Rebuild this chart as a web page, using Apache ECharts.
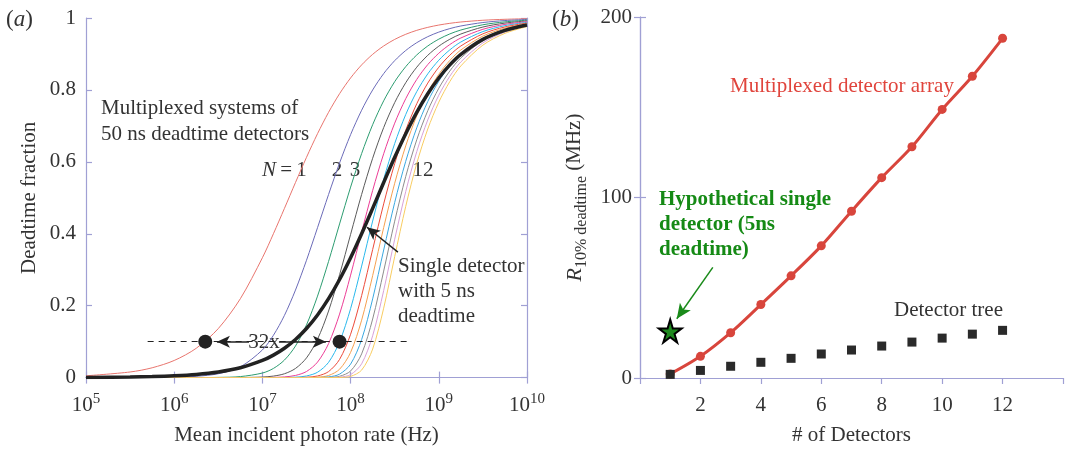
<!DOCTYPE html>
<html><head><meta charset="utf-8">
<script src="https://cdn.jsdelivr.net/npm/echarts@6/dist/echarts.min.js"></script>
<style>html,body{margin:0;padding:0;background:#fff}#c{width:1066px;height:451px}</style>
</head><body><div id="c"></div>
<script>
// ---------- Panel (a): deadtime fraction vs mean incident photon rate ----------
// log10 of photon rate (Hz) at which the curves were read
const rateExp = [5,5.5,5.75,6,6.25,6.5,6.75,7,7.125,7.25,7.375,7.5,7.625,7.75,7.875,8,8.125,8.25,8.375,8.5,8.625,8.75,8.875,9,9.125,9.25,9.5,9.75,10];
const fracN1  = [0.005,0.0156,0.0273,0.0476,0.0816,0.1364,0.2194,0.3333,0.4001,0.4706,0.5425,0.6126,0.6783,0.7377,0.7895,0.8333,0.8696,0.8989,0.9222,0.9405,0.9547,0.9657,0.974,0.9804,0.9852,0.9889,0.9937,0.9964,0.998];
const fracN2  = [0,0.0001,0.0004,0.0012,0.0036,0.0107,0.0299,0.0769,0.1177,0.173,0.2434,0.3263,0.4169,0.5091,0.5968,0.6757,0.7435,0.7998,0.8454,0.8814,0.9096,0.9314,0.9481,0.9608,0.9705,0.9778,0.9874,0.9929,0.996];
const fracN3  = [0,0,0,0,0.0001,0.0006,0.0028,0.0127,0.0255,0.0488,0.0878,0.1467,0.2266,0.323,0.4273,0.5297,0.623,0.7033,0.7697,0.8229,0.8647,0.8972,0.9222,0.9412,0.9557,0.9666,0.9812,0.9893,0.994];
const fracN4  = [0,0,0,0,0,0,0.0002,0.0016,0.0042,0.0107,0.0254,0.0548,0.1067,0.1851,0.286,0.3983,0.5094,0.6099,0.6953,0.7648,0.82,0.8632,0.8963,0.9217,0.9409,0.9555,0.9749,0.9858,0.992];
const fracN5  = [0,0,0,0,0,0,0,0.0002,0.0006,0.0019,0.006,0.017,0.0431,0.0943,0.1766,0.2849,0.4045,0.5203,0.6225,0.7075,0.7756,0.8292,0.8705,0.9021,0.9262,0.9444,0.9686,0.9822,0.99];
const fracN6  = [0,0,0,0,0,0,0,0,0.0001,0.0003,0.0012,0.0045,0.0149,0.0423,0.0994,0.1918,0.3101,0.4353,0.5517,0.6509,0.7315,0.7953,0.8447,0.8826,0.9114,0.9333,0.9623,0.9787,0.988];
const fracN7  = [0,0,0,0,0,0,0,0,0,0,0.0002,0.001,0.0045,0.0167,0.0506,0.1205,0.228,0.356,0.4831,0.5952,0.6878,0.7616,0.819,0.8631,0.8967,0.9222,0.956,0.9751,0.986];
const fracN8  = [0,0,0,0,0,0,0,0,0,0,0,0.0002,0.0012,0.0058,0.0232,0.0701,0.1597,0.2835,0.4173,0.5405,0.6444,0.728,0.7934,0.8436,0.882,0.9111,0.9497,0.9716,0.984];
const fracN9  = [0,0,0,0,0,0,0,0,0,0,0,0,0.0003,0.0018,0.0096,0.0375,0.1058,0.2188,0.3548,0.487,0.6015,0.6946,0.7677,0.8242,0.8673,0.9,0.9434,0.968,0.982];
const fracN10 = [0,0,0,0,0,0,0,0,0,0,0,0,0,0.0005,0.0036,0.0184,0.0659,0.1629,0.2962,0.435,0.5591,0.6614,0.7422,0.8047,0.8526,0.8889,0.9372,0.9645,0.98];
const fracN11 = [0,0,0,0,0,0,0,0,0,0,0,0,0,0.0001,0.0012,0.0083,0.0384,0.1163,0.2421,0.3847,0.5173,0.6284,0.7167,0.7853,0.8379,0.8778,0.9309,0.9609,0.978];
const fracN12 = [0,0,0,0,0,0,0,0,0,0,0,0,0,0,0.0004,0.0034,0.0209,0.0793,0.1931,0.3364,0.4761,0.5956,0.6913,0.7659,0.8232,0.8667,0.9246,0.9574,0.976];
const fracSingle5ns = [0.0005,0.0016,0.0028,0.005,0.0088,0.0156,0.0273,0.0476,0.0625,0.0816,0.106,0.1365,0.1741,0.2195,0.2727,0.3333,0.4,0.4706,0.5425,0.6126,0.6783,0.7377,0.7895,0.8333,0.8696,0.8989,0.9405,0.9657,0.9804];
const curveColors = ['#e8756e','#6b6bb8','#2c9c70','#5a5a5a','#ec3d96','#2ab8ec','#ec4a3a','#f5a050','#3aa8e0','#8c8c8c','#d8a0d8','#f8cc60'];
const tenPctRates = [2.25e6, 7.5e7];   // the two 10% points (Hz)
const tenPctFrac  = [0.1, 0.1];

// ---------- Panel (b): R at 10% deadtime vs number of detectors ----------
const detN      = [1,2,3,4,5,6,7,8,9,10,11,12];
const muxRate   = [2.2,12.0,25.1,40.7,56.6,73.2,92.4,111.0,128.1,148.8,167.2,188.2];
const treeRate  = [2.0,4.2,6.5,8.7,10.9,13.3,15.5,17.7,19.9,22.1,24.3,26.4];
const starPoint = [1, 26];
const xTicksB   = [2,4,6,8,10,12];

const FONT = 'Liberation Serif';
const FS = 21;
const TXT = '#333';
const AX = '#a0a0d4';
const F = (s, extra) => (extra ? extra + ' ' : '') + s + 'px "Liberation Serif"';

const curves = [fracN1,fracN2,fracN3,fracN4,fracN5,fracN6,fracN7,fracN8,fracN9,fracN10,fracN11,fracN12];
const toPts = arr => rateExp.map((e,i)=>[Math.pow(10,e), arr[i]]);

const series = [];
curves.forEach((c,k)=>{
  series.push({type:'line', xAxisIndex:0, yAxisIndex:0, data:toPts(c), showSymbol:false, smooth:0.3,
    lineStyle:{width:1, color:curveColors[k]}, z:2, silent:true, animation:false});
});
series.push({type:'line', xAxisIndex:0, yAxisIndex:0, data:toPts(fracSingle5ns), showSymbol:false, smooth:0.3,
  lineStyle:{width:3.5, color:'#222'}, z:4, animation:false});

const arrowLine = {color:'#222', width:1.5, type:'solid'};
series.push({type:'scatter', xAxisIndex:0, yAxisIndex:0, z:6, animation:false,
  data: tenPctRates.map((r,i)=>[r, tenPctFrac[i]]), symbolSize:14, itemStyle:{color:'#222', opacity:1},
  markLine:{silent:true, animation:false, label:{show:false}, symbolSize:[9,13],
    data:[
      [{coord:[5.0e5,0.1], symbol:'none', lineStyle:{color:'#222', width:1, type:[6,5]}},{coord:[4.36e8,0.1], symbol:'none'}],
      [{coord:[7.05e6,0.1], symbol:'none', lineStyle:arrowLine},{coord:[3.05e6,0.1], symbol:'arrow'}],
      [{coord:[1.54e7,0.1], symbol:'none', lineStyle:arrowLine},{coord:[5.25e7,0.1], symbol:'arrow'}],
      [{coord:[3.44e8,0.349], symbol:'none', lineStyle:arrowLine},{coord:[1.535e8,0.418], symbol:'arrow'}]
    ]}
});

// panel b
series.push({type:'line', xAxisIndex:2, yAxisIndex:2, data:detN.map((n,i)=>[n,muxRate[i]]), smooth:0.3,
  symbol:'circle', symbolSize:9, showSymbol:true, itemStyle:{color:'#d8453c', opacity:1}, lineStyle:{width:3, color:'#d8453c'}, z:3, animation:false});
series.push({type:'scatter', xAxisIndex:2, yAxisIndex:2, data:detN.map((n,i)=>[n,treeRate[i]]),
  symbol:'rect', symbolSize:9, itemStyle:{color:'#2a2a2a', opacity:1}, z:4, animation:false});
series.push({type:'scatter', xAxisIndex:2, yAxisIndex:2, data:[starPoint], z:5, animation:false,
  symbol:'path://M50,0 L61,35 L98,35 L68,57 L79,91 L50,70 L21,91 L32,57 L2,35 L39,35 Z', symbolSize:23,
  itemStyle:{color:'#1e8a1e', borderColor:'#000', borderWidth:2, opacity:1},
  markLine:{silent:true, animation:false, label:{show:false}, symbolSize:[10,15],
    data:[[{coord:[2.41,61.3], symbol:'none', lineStyle:{color:'#1a8a1a', width:1.5, type:'solid'}},{coord:[1.217,32.8], symbol:'arrow'}]]}
});

const axisLineStyle = {lineStyle:{color:AX, width:1.2}};
const tickIn = {show:true, inside:true, length:6, lineStyle:{color:AX, width:1.2}};
const lblStyle = {fontFamily:FONT, fontSize:FS, color:TXT};

const option = {
  animation:false,
  grid:[
    {left:86, top:18, right:539, bottom:72},
    {left:640, top:17, right:-7, bottom:73}
  ],
  xAxis:[
    {type:'log', gridIndex:0, min:1e5, max:1e10, logBase:10, splitNumber:5, position:'bottom',
      axisLine:axisLineStyle, axisTick:tickIn, splitLine:{show:false}, minorTick:{show:false},
      axisLabel:{margin:16, fontFamily:FONT, color:TXT,
        formatter:v=>'{b|10}{e|'+Math.round(Math.log10(v))+'}',
        rich:{b:{fontFamily:FONT, fontSize:FS, color:TXT, lineHeight:24},
              e:{fontFamily:FONT, fontSize:15, color:TXT, lineHeight:15, padding:[0,0,14,0]}}},
      name:'Mean incident photon rate (Hz)', nameLocation:'middle', nameGap:47,
      nameTextStyle:{fontFamily:FONT, fontSize:FS, color:TXT}},
    {type:'log', gridIndex:0, min:1e5, max:1e10, logBase:10, splitNumber:5, position:'top',
      axisLine:axisLineStyle, axisTick:tickIn, axisLabel:{show:false}, splitLine:{show:false}},
    {type:'value', gridIndex:1, min:0, max:14, interval:2, position:'bottom',
      axisLine:axisLineStyle, axisTick:{show:false}, splitLine:{show:false},
      axisLabel:Object.assign({margin:17, formatter:v=> xTicksB.indexOf(v)>=0 ? String(v) : ''}, lblStyle),
      name:'# of Detectors', nameLocation:'middle', nameGap:47,
      nameTextStyle:{fontFamily:FONT, fontSize:FS, color:TXT}},
    {type:'value', gridIndex:1, min:0, max:14, interval:2, position:'top',
      axisLine:axisLineStyle, axisTick:tickIn, axisLabel:{show:false}, splitLine:{show:false}}
  ],
  yAxis:[
    {type:'value', gridIndex:0, min:0, max:1, interval:0.2, position:'left',
      axisLine:axisLineStyle, axisTick:tickIn, splitLine:{show:false},
      axisLabel:Object.assign({margin:10}, lblStyle),
      name:'Deadtime fraction', nameLocation:'middle', nameGap:46,
      nameTextStyle:{fontFamily:FONT, fontSize:FS, color:TXT}},
    {type:'value', gridIndex:0, min:0, max:1, interval:0.2, position:'right',
      axisLine:axisLineStyle, axisTick:tickIn, axisLabel:{show:false}, splitLine:{show:false}},
    {type:'value', gridIndex:1, min:0, max:200, interval:100, position:'left',
      axisLine:axisLineStyle, axisTick:tickIn, splitLine:{show:false},
      axisLabel:Object.assign({margin:8}, lblStyle),
      name:'{r|R}{s|10% deadtime}{n| (MHz)}', nameLocation:'middle', nameGap:50,
      nameTextStyle:{fontFamily:FONT, fontSize:FS, color:TXT,
        rich:{r:{fontFamily:FONT, fontSize:22, fontStyle:'italic', color:TXT, lineHeight:28, verticalAlign:'top', padding:[2,0,0,0]},
              s:{fontFamily:FONT, fontSize:16, color:TXT, lineHeight:16, verticalAlign:'bottom'},
              n:{fontFamily:FONT, fontSize:FS, color:TXT, lineHeight:28, verticalAlign:'top', padding:[2,0,0,0]}}}},
    {type:'value', gridIndex:1, min:0, max:200, interval:100, position:'right',
      axisLine:axisLineStyle, axisTick:tickIn, axisLabel:{show:false}, splitLine:{show:false}}
  ],
  graphic:[
    {type:'text', left:6, top:8, style:{text:'({i|a})', font:F(23), fill:TXT,
      rich:{i:{fontStyle:'italic', fontFamily:FONT, fontSize:23, fill:TXT}}}},
    {type:'text', left:552, top:8, style:{text:'({i|b})', font:F(23), fill:TXT,
      rich:{i:{fontStyle:'italic', fontFamily:FONT, fontSize:23, fill:TXT}}}},
    {type:'text', x:101, y:108, style:{text:'Multiplexed systems of', font:F(FS), fill:TXT, verticalAlign:'middle'}},
    {type:'text', x:101, y:134, style:{text:'50 ns deadtime detectors', font:F(FS), fill:TXT, verticalAlign:'middle'}},
    {type:'text', x:262, y:170, style:{text:'{i|N}\u2009=\u20091', font:F(FS), fill:TXT, verticalAlign:'middle',
      rich:{i:{fontStyle:'italic', fontFamily:FONT, fontSize:FS, fill:TXT}}}},
    {type:'text', x:337, y:170, style:{text:'2', font:F(FS), fill:TXT, align:'center', verticalAlign:'middle'}},
    {type:'text', x:355, y:170, style:{text:'3', font:F(FS), fill:TXT, align:'center', verticalAlign:'middle'}},
    {type:'text', x:423, y:170, style:{text:'12', font:F(FS), fill:TXT, align:'center', verticalAlign:'middle'}},
    {type:'text', x:398, y:266, style:{text:'Single detector', font:F(FS), fill:TXT, verticalAlign:'middle'}},
    {type:'text', x:398, y:291, style:{text:'with 5 ns', font:F(FS), fill:TXT, verticalAlign:'middle'}},
    {type:'text', x:398, y:316, style:{text:'deadtime', font:F(FS), fill:TXT, verticalAlign:'middle'}},
    {type:'text', x:264, y:342, style:{text:'32x', font:F(FS), fill:TXT, align:'center', verticalAlign:'middle'}},
    {type:'text', x:730, y:86, style:{text:'Multiplexed detector array', font:F(FS), fill:'#e0443c', verticalAlign:'middle'}},
    {type:'text', x:659, y:200, style:{text:'Hypothetical single', font:F(FS,'bold'), fill:'#158a15', verticalAlign:'middle'}},
    {type:'text', x:659, y:225, style:{text:'detector (5ns', font:F(FS,'bold'), fill:'#158a15', verticalAlign:'middle'}},
    {type:'text', x:659, y:250, style:{text:'deadtime)', font:F(FS,'bold'), fill:'#158a15', verticalAlign:'middle'}},
    {type:'text', x:894, y:310, style:{text:'Detector tree', font:F(FS), fill:TXT, verticalAlign:'middle'}}
  ],
  series: series
};
const chart = echarts.init(document.getElementById('c'), null, {renderer:'canvas'});
chart.setOption(option);
</script>
</body></html>
